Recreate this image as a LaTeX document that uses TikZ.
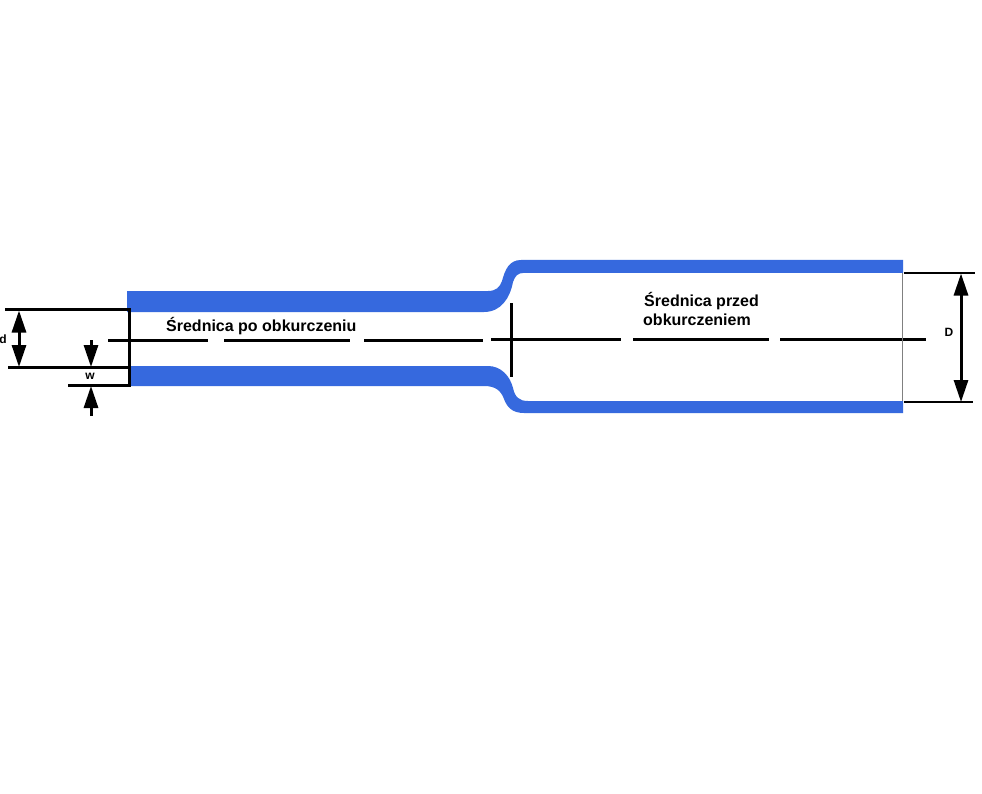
\documentclass[tikz,border=0pt]{standalone}
\usepackage{fontspec}
\setmainfont{Liberation Sans}
\usetikzlibrary{arrows.meta}

\begin{document}
\begin{tikzpicture}[
  x=1pt,y=-1pt,
  tube/.style = {fill=tubeblue,draw=none},
  line/.style = {line width=2.2pt,black},
  axis/.style = {line width=2.2pt,black},
  dimen/.style = {line width=3pt,black,{Triangle[length=22pt,width=14pt]}-{Triangle[length=22pt,width=14pt]}},
  lead/.style = {line width=3pt,black,-{Triangle[length=22pt,width=14pt]}},
  title/.style = {font=\bfseries\fontsize{16}{18}\selectfont,inner sep=0pt,anchor=base west,align=left},
  dimlabel/.style = {font=\bfseries\fontsize{12}{14}\selectfont,inner sep=0pt}
]
  \definecolor{tubeblue}{RGB}{54,105,222}

  \useasboundingbox[fill=white] (0,0) rectangle (982,794);

  % upper wall
  \fill[tube] (127,291) -- (488,291)
    .. controls (496,291) and (500,287) .. (502,281)
    .. controls (505,270) and (509,260) .. (521,260)
    -- (903,260) -- (903,273) -- (523,273)
    .. controls (518,273) and (515,276) .. (513,282)
    .. controls (510,298) and (501,312) .. (484,312)
    -- (127,312) -- cycle;
  % lower wall
  \fill[tube] (130,366) -- (488,366)
    .. controls (501,366) and (510,376) .. (513,388)
    .. controls (515,397) and (519,401) .. (528,401)
    -- (903,401) -- (903,413) -- (524,413)
    .. controls (512,413) and (507,407) .. (504,399)
    .. controls (501,391) and (496,386) .. (484,386)
    -- (130,386) -- cycle;

  \coordinate (a1) at (108,340.4);
  \coordinate (a2) at (208,340.4);
  \coordinate (a3) at (224,340.4);
  \coordinate (a4) at (350,340.4);
  \coordinate (a5) at (364,340.4);
  \coordinate (a6) at (483,340.4);
  \coordinate (a7) at (491,339.5);
  \coordinate (a8) at (621,339.5);
  \coordinate (a9) at (633,339.5);
  \coordinate (a10) at (769,339.5);
  \coordinate (a11) at (780,339.5);
  \coordinate (a12) at (926,339.5);
  \foreach \p/\q in {a1/a2,a3/a4,a5/a6,a7/a8,a9/a10,a11/a12}
    \draw[axis] (\p) -- (\q);

  \coordinate (neck1) at (511.5,303);
  \coordinate (neck2) at (511.5,377);
  \draw[line] (neck1) -- (neck2);

  % left end
  \coordinate (dt1) at (5,309.5);
  \coordinate (dt2) at (129.5,309.5);
  \coordinate (db1) at (8,367.5);
  \coordinate (db2) at (129.5,367.5);
  \coordinate (wb1) at (68,385.5);
  \coordinate (wb2) at (129.5,385.5);
  \draw[line] (dt1) -- (dt2) -- (wb2) -- (wb1);
  \draw[line] (db1) -- (db2);

  \coordinate (dt) at (19,310.5);
  \coordinate (db) at (19,367);
  \draw[dimen] (dt) -- (db);
  \coordinate (ws1) at (91,340);
  \coordinate (we1) at (91,367);
  \coordinate (ws2) at (91,416);
  \coordinate (we2) at (91,386);
  \draw[lead] (ws1) -- (we1);
  \draw[lead] (ws2) -- (we2);

  % right end
  \coordinate (end1) at (902.5,273);
  \coordinate (end2) at (902.5,401);
  \draw[line width=1.2pt,black!50] (end1) -- (end2);
  \coordinate (Dt1) at (904,273);
  \coordinate (Dt2) at (975,273);
  \coordinate (Db1) at (904,402);
  \coordinate (Db2) at (973,402);
  \draw[line] (Dt1) -- (Dt2);
  \draw[line] (Db1) -- (Db2);
  \coordinate (Dt) at (961,273.5);
  \coordinate (Db) at (961,402);
  \draw[dimen] (Dt) -- (Db);

  \node[title] (after) at (166,331) {Średnica po obkurczeniu};
  \node[title] (before1) at (644,306) {Średnica przed};
  \node[title] (before2) at (643,325) {obkurczeniem};
  \node[dimlabel] (dlabel) at (3,339.5) {d};
  \node[dimlabel] (wlabel) at (90,376) {w};
  \node[dimlabel] (Dlabel) at (949,332.5) {D};

\end{tikzpicture}
\end{document}
